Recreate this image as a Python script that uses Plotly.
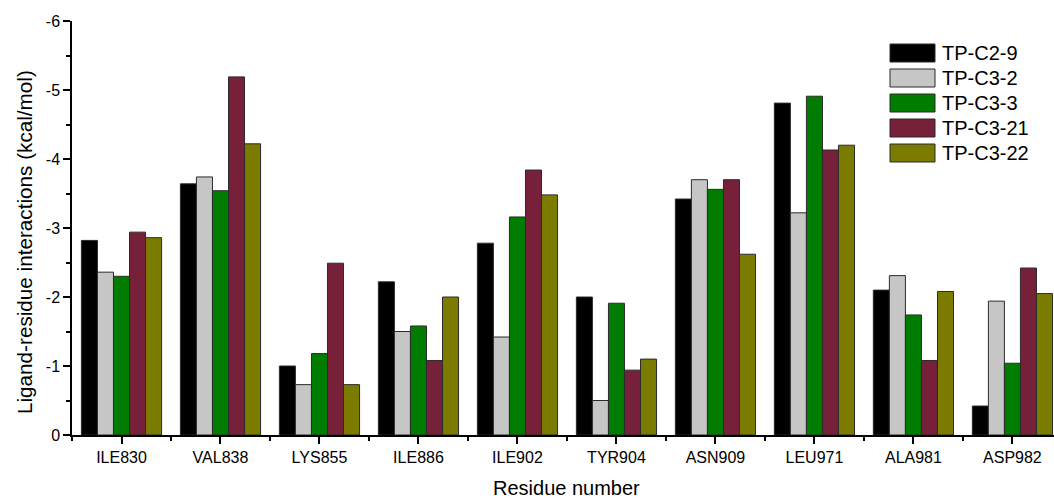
import plotly.graph_objects as go

# Residues along the x axis
residues = ["ILE830", "VAL838", "LYS855", "ILE886", "ILE902",
            "TYR904", "ASN909", "LEU971", "ALA981", "ASP982"]

# Ligand-residue interaction energies (kcal/mol) for each compound
tp_c2_9 = [-2.82, -3.64, -1.00, -2.22, -2.78, -2.00, -3.42, -4.81, -2.10, -0.42]
tp_c3_2 = [-2.36, -3.74, -0.73, -1.50, -1.42, -0.50, -3.70, -3.22, -2.31, -1.94]
tp_c3_3 = [-2.30, -3.54, -1.18, -1.58, -3.16, -1.91, -3.56, -4.91, -1.74, -1.04]
tp_c3_21 = [-2.94, -5.19, -2.49, -1.08, -3.84, -0.94, -3.70, -4.13, -1.08, -2.42]
tp_c3_22 = [-2.86, -4.22, -0.73, -2.00, -3.48, -1.10, -2.62, -4.20, -2.08, -2.05]

series_names = ["TP-C2-9", "TP-C3-2", "TP-C3-3", "TP-C3-21", "TP-C3-22"]
series_values = [tp_c2_9, tp_c3_2, tp_c3_3, tp_c3_21, tp_c3_22]
series_colors = ["#000000", "#c6c6c6", "#007d00", "#76203a", "#7b7b00"]

y_ticks = [-6, -5, -4, -3, -2, -1, 0]
y_ticktext = ["-6", "-5", "-4", "-3", "-2", "-1", "0"]

FONT = "Liberation Sans, Arial, sans-serif"
W, H = 1054, 498
ML, MR, MT, MB = 72, 0, 21, 63

x_pos = list(range(len(residues)))

fig = go.Figure()
for name, vals, col in zip(series_names, series_values, series_colors):
    fig.add_trace(go.Bar(
        x=x_pos, y=vals, name=name,
        marker=dict(color=col, line=dict(color="#2b2b2b", width=1)),
        showlegend=False,
    ))

# Legend drawn as large swatches with labels, in paper coordinates
plot_w = W - ML - MR
plot_h = H - MT - MB


def px_x(p):
    return (p - ML) / plot_w


def px_y(p):
    return (H - MB - p) / plot_h


shapes = []
annotations = []
row_top = 44
row_step = 25
for i, (name, col) in enumerate(zip(series_names, series_colors)):
    top = row_top + i * row_step
    shapes.append(dict(
        type="rect", xref="paper", yref="paper",
        x0=px_x(890), x1=px_x(935), y0=px_y(top + 18), y1=px_y(top),
        fillcolor=col, line=dict(color="#2b2b2b", width=1),
    ))
    annotations.append(dict(
        xref="paper", yref="paper", x=px_x(940), y=px_y(top + 9),
        text=name, showarrow=False, xanchor="left", yanchor="middle",
        font=dict(family=FONT, size=20, color="#000000"),
    ))

# X axis title centred under the full category span
annotations.append(dict(
    xref="x", yref="paper", x=4.5, y=px_y(488),
    text="Residue number", showarrow=False, xanchor="center", yanchor="middle",
    font=dict(family=FONT, size=20, color="#000000"),
))

# Y axis title
annotations.append(dict(
    xref="paper", yref="paper", x=px_x(25), y=px_y(242),
    text="Ligand-residue interactions (kcal/mol)", textangle=-90,
    showarrow=False, xanchor="center", yanchor="middle",
    font=dict(family=FONT, size=20.7, color="#000000"),
))

fig.update_layout(
    width=W, height=H,
    margin=dict(l=ML, r=MR, t=MT, b=MB, pad=0),
    paper_bgcolor="white", plot_bgcolor="white",
    barmode="group", bargap=0.19, bargroupgap=0,
    font=dict(family=FONT, size=16, color="#000000"),
    shapes=shapes, annotations=annotations,
    showlegend=False,
)

fig.update_xaxes(
    range=[-0.5, 9.42],
    tickmode="array", tickvals=x_pos, ticktext=residues,
    ticks="outside", ticklen=7, tickwidth=1.5, tickcolor="#000000",
    minor=dict(tickvals=[i - 0.5 for i in range(len(residues) + 1)],
               ticks="outside", ticklen=4, tickwidth=1.5, tickcolor="#000000"),
    showline=True, linecolor="#000000", linewidth=1.5,
    showgrid=False, zeroline=False,
    tickfont=dict(family=FONT, size=16, color="#000000"),
)

fig.update_yaxes(
    range=[0, -6],
    tickmode="array", tickvals=y_ticks, ticktext=y_ticktext,
    ticks="outside", ticklen=7, tickwidth=1.5, tickcolor="#000000",
    minor=dict(tickvals=[-5.5, -4.5, -3.5, -2.5, -1.5, -0.5],
               ticks="outside", ticklen=4, tickwidth=1.5, tickcolor="#000000"),
    showline=True, linecolor="#000000", linewidth=1.5,
    showgrid=False, zeroline=False,
    tickfont=dict(family=FONT, size=16, color="#000000"),
)

fig.write_html("out.html")
